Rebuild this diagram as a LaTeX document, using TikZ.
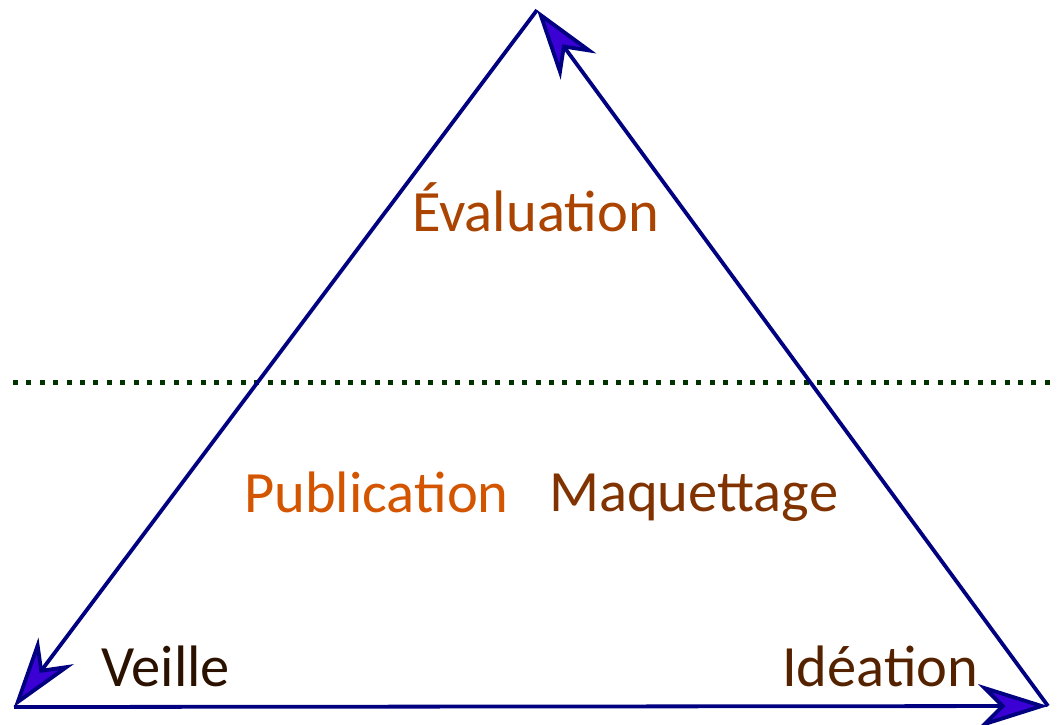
\documentclass[tikz,border=0pt]{standalone}
\usepackage{fontspec}
\setmainfont{Carlito}
\usetikzlibrary{arrows.meta}
\definecolor{edgecol}{HTML}{000080}
\definecolor{tipfill}{HTML}{3A00D4}
\definecolor{sepcol}{HTML}{003300}
\definecolor{cEval}{HTML}{AA4400}
\definecolor{cPub}{HTML}{D45500}
\definecolor{cMaq}{HTML}{803300}
\definecolor{cVei}{HTML}{2B1100}
\definecolor{cIde}{HTML}{552200}
\tikzset{
  edge/.style={draw=edgecol, line width=3.8pt, line join=miter,
    -{Stealth[length=70pt, width=44pt, inset=22pt, fill=tipfill]}},
  lbl/.style={anchor=base west, inner sep=0pt, font=\fontsize{58.5}{62}\selectfont},
}
\begin{document}
\begin{tikzpicture}[x=1pt,y=-1pt]
\useasboundingbox (0,0) rectangle (1058,724);
\coordinate (T) at (537,10);
\coordinate (L) at (14,707);
\coordinate (R) at (1048,706);
\coordinate (S1) at (13,382);
\coordinate (S2) at (1056,382);
\draw[sepcol, line width=5pt, dash pattern=on 5pt off 8.4pt] (S1) -- (S2);
\draw[edge] (T) -- (L);
\draw[edge] (L) -- (R);
\draw[edge] (R) -- (T);
\node[lbl, text=cEval] (eval) at (412,231) {Évaluation};
\node[lbl, text=cPub] (pub) at (244,512) {Publication};
\node[lbl, text=cMaq] (maq) at (549,511) {Maquettage};
\node[lbl, text=cVei] (vei) at (101,686) {Veille};
\node[lbl, text=cIde] (ide) at (782,686) {Idéation};
\end{tikzpicture}
\end{document}
